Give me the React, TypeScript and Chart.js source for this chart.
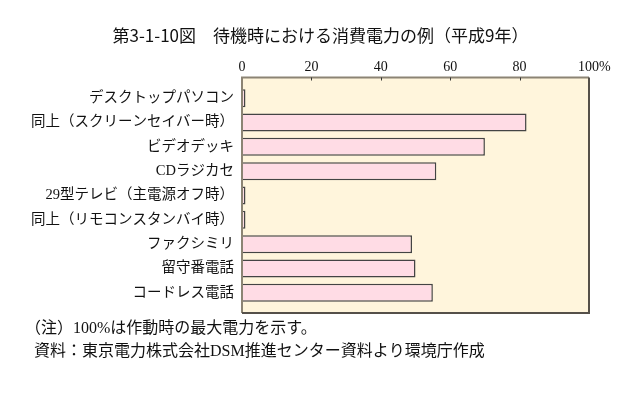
import React, { useEffect, useRef } from "react";
import { Chart, registerables } from "chart.js";

Chart.register(...registerables);

const TITLE = "第3-1-10図　待機時における消費電力の例（平成9年）";
const CATEGORIES = [
  "デスクトップパソコン",
  "同上（スクリーンセイバー時）",
  "ビデオデッキ",
  "CDラジカセ",
  "29型テレビ（主電源オフ時）",
  "同上（リモコンスタンバイ時）",
  "ファクシミリ",
  "留守番電話",
  "コードレス電話",
];
const VALUES = [1, 82, 70, 56, 1, 1, 49, 50, 55];
const X_TICKS = [0, 20, 40, 60, 80, 100];
const NOTES = [
  "（注）100%は作動時の最大電力を示す。",
  "資料：東京電力株式会社DSM推進センター資料より環境庁作成",
];

const SERIF = "'Liberation Serif', 'Noto Sans CJK JP', serif";
const SANS = "'Noto Sans CJK JP', sans-serif";

const framePlugin = {
  id: "framePlugin",
  beforeDraw(chart: any) {
    const { ctx, chartArea } = chart;
    const l = chartArea.left;
    const r = chartArea.right;
    const t = chartArea.top - 8.5;
    const b = chartArea.bottom + 8;
    ctx.save();
    ctx.fillStyle = "#FFF5DC";
    ctx.fillRect(l, t, r - l, b - t);
    ctx.restore();
  },
  afterDatasetsDraw(chart: any) {
    const { ctx, chartArea, scales } = chart;
    const l = chartArea.left;
    const r = chartArea.right;
    const t = chartArea.top - 8.5;
    const b = chartArea.bottom + 8;
    ctx.save();
    ctx.lineWidth = 2;
    ctx.strokeStyle = "#8C8474";
    ctx.beginPath();
    ctx.moveTo(l, b);
    ctx.lineTo(l, t);
    ctx.lineTo(r, t);
    ctx.stroke();
    ctx.strokeStyle = "#555049";
    ctx.beginPath();
    ctx.moveTo(r, t);
    ctx.lineTo(r, b);
    ctx.lineTo(l, b);
    ctx.stroke();
    ctx.lineWidth = 1;
    ctx.strokeStyle = "#333";
    X_TICKS.slice(1, -1).forEach((v) => {
      const x = Math.round(scales.x.getPixelForValue(v)) + 0.5;
      ctx.beginPath();
      ctx.moveTo(x, t);
      ctx.lineTo(x, t + 3);
      ctx.stroke();
    });
    ctx.restore();
  },
  afterDraw(chart: any) {
    const { ctx } = chart;
    ctx.save();
    ctx.fillStyle = "#111";
    ctx.textBaseline = "middle";
    ctx.textAlign = "center";
    ctx.font = `400 17px ${SANS}`;
    ctx.fillText(TITLE, 320.5, 36);
    ctx.textAlign = "left";
    ctx.font = `16px ${SERIF}`;
    ctx.fillText(NOTES[0], 25, 329);
    ctx.fillText(NOTES[1], 34, 352);
    ctx.restore();
  },
};

export default function App() {
  const ref = useRef<HTMLCanvasElement | null>(null);
  useEffect(() => {
    if (!ref.current) return;
    const chart = new Chart(ref.current, {
      type: "bar",
      data: {
        labels: CATEGORIES,
        datasets: [
          {
            data: VALUES,
            backgroundColor: "#FFDCE5",
            borderColor: "#444",
            borderWidth: 1.5,
            barPercentage: 0.74,
            categoryPercentage: 1,
          },
        ],
      },
      options: {
        indexAxis: "y",
        animation: false,
        responsive: false,
        layout: { padding: { top: 0, left: 0, right: 52, bottom: 92 } },
        plugins: {
          legend: { display: false },
          tooltip: { enabled: false },
          title: { display: false },
        },
        scales: {
          x: {
            position: "top",
            min: 0,
            max: 100,
            afterBuildTicks: (scale: any) => {
              scale.ticks = X_TICKS.map((v) => ({ value: v }));
            },
            afterFit: (scale: any) => {
              scale.height = 86;
            },
            grid: { display: false, drawTicks: false },
            border: { display: false },
            ticks: {
              padding: 10,
              color: "#111",
              font: { family: SERIF, size: 14 },
              maxRotation: 0,
              callback: (v: any) => (v === 100 ? "   100%" : String(v)),
            },
          },
          y: {
            afterFit: (scale: any) => {
              scale.width = 242;
            },
            grid: { display: false, drawTicks: false },
            border: { display: false },
            ticks: {
              padding: 8,
              color: "#111",
              font: { family: SERIF, size: 14.5 },
            },
          },
        },
      },
      plugins: [framePlugin],
    });
    return () => chart.destroy();
  }, []);
  return (
    <div style={{ position: "fixed", left: 0, top: 0, width: 641, height: 397, background: "#fff" }}>
      <canvas ref={ref} width={641} height={397} style={{ width: 641, height: 397 }} />
    </div>
  );
}
